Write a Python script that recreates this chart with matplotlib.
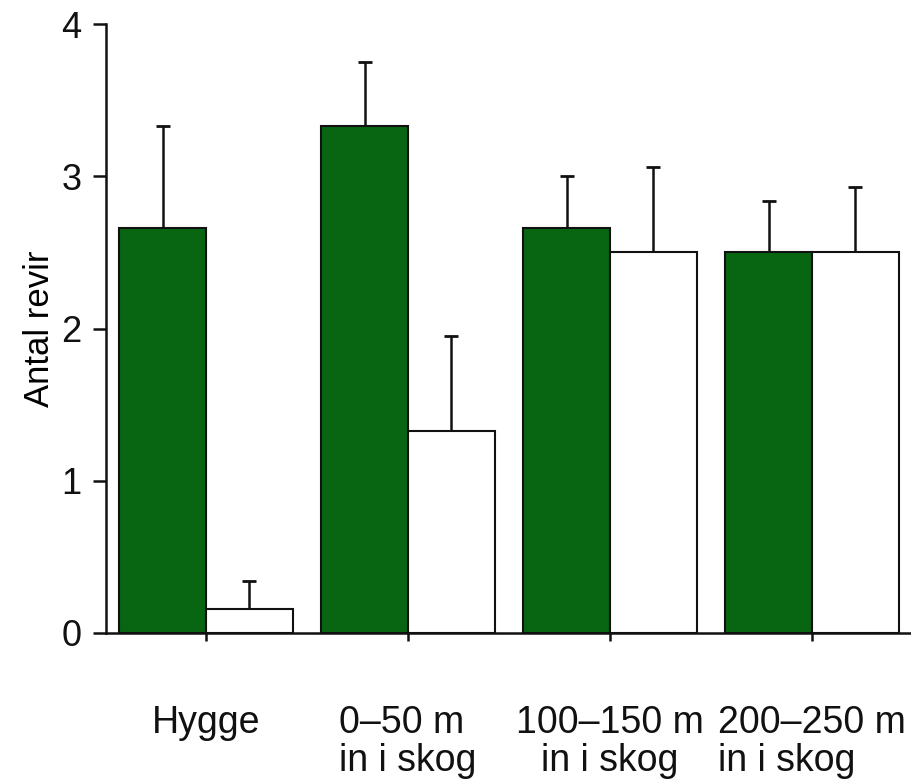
import numpy as np
import matplotlib
matplotlib.use('Agg')
import matplotlib.pyplot as plt

# Data
groups = ['Hygge', '0–50 m\nin i skog', '100–150 m\nin i skog', '200–250 m\nin i skog']
green_vals = [2.66, 3.33, 2.66, 2.50]
green_err = [0.67, 0.42, 0.34, 0.34]
white_vals = [0.16, 1.33, 2.50, 2.50]
white_err = [0.18, 0.62, 0.56, 0.43]
y_ticks = [0, 1, 2, 3, 4]

plt.rcParams['font.family'] = ['Liberation Sans', 'DejaVu Sans']

fig = plt.figure(figsize=(9.11, 7.83), dpi=100)
ax = fig.add_axes([0.1164, 0.1916, 0.8836, 0.7777])

x = np.arange(len(groups))
w = 0.43
green = '#086612'

ax.bar(x - w / 2, green_vals, w, color=green, edgecolor='#111111', linewidth=1.5, zorder=2)
ax.bar(x + w / 2, white_vals, w, color='white', edgecolor='#111111', linewidth=1.5, zorder=2)

zeros = np.zeros(len(groups))
ax.errorbar(x - w / 2, green_vals, yerr=[zeros, green_err], fmt='none',
            ecolor='#111111', elinewidth=1.8, capsize=5, capthick=2, zorder=1)
ax.errorbar(x + w / 2, white_vals, yerr=[zeros, white_err], fmt='none',
            ecolor='#111111', elinewidth=1.8, capsize=5, capthick=2, zorder=1)

ax.set_xlim(-0.495, 3.49)
ax.set_ylim(0, 4)
ax.set_yticks(y_ticks)
ax.set_xticks(x)
labels = ax.set_xticklabels(groups, fontsize=27, linespacing=1.08, va='top')
for lab, ma in zip(labels, ['center', 'left', 'center', 'left']):
    lab.set_multialignment(ma)
ax.set_ylabel('Antal revir', fontsize=25, labelpad=4)

for s in ['top', 'right']:
    ax.spines[s].set_visible(False)
for s in ['left', 'bottom']:
    ax.spines[s].set_linewidth(1.8)
    ax.spines[s].set_color('#111111')

ax.tick_params(axis='y', length=9.5, width=1.8, pad=8, labelsize=26, colors='#111111')
ax.tick_params(axis='x', length=6, width=1.8, pad=46, colors='#111111')

fig.savefig('out.png', dpi=100)
